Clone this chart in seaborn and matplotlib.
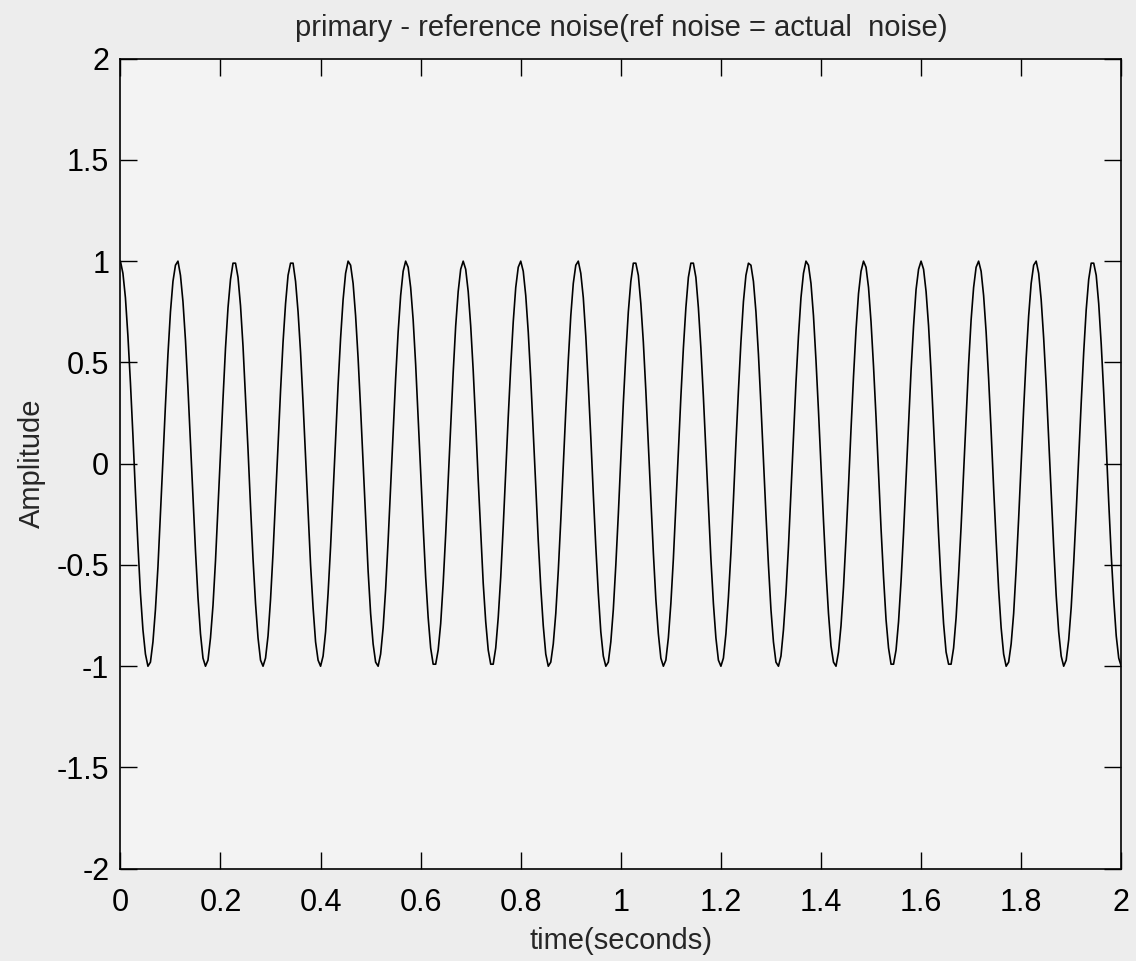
import numpy as np
import pandas as pd
import seaborn as sns
import matplotlib.pyplot as plt

# values, one every 0.005 s from 0 to 2 s
time_s = np.round(np.arange(401) * 0.005, 3)
amplitude = [
    1.00, 0.94, 0.82, 0.63, 0.40, 0.14, -0.14, -0.40, -0.64, -0.82,
    -0.94, -1.00, -0.98, -0.88, -0.72, -0.51, -0.25, 0.02, 0.29, 0.54,
    0.75, 0.90, 0.98, 1.00, 0.93, 0.80, 0.61, 0.37, 0.10, -0.17,
    -0.43, -0.66, -0.84, -0.96, -1.00, -0.97, -0.86, -0.70, -0.48, -0.22,
    0.05, 0.32, 0.57, 0.77, 0.91, 0.99, 0.99, 0.92, 0.78, 0.58,
    0.33, 0.07, -0.21, -0.47, -0.69, -0.86, -0.97, -1.00, -0.96, -0.85,
    -0.67, -0.44, -0.18, 0.09, 0.36, 0.60, 0.79, 0.93, 0.99, 0.99,
    0.90, 0.75, 0.55, 0.30, 0.03, -0.24, -0.50, -0.71, -0.88, -0.97,
    -1.00, -0.95, -0.83, -0.64, -0.41, -0.15, 0.12, 0.39, 0.62, 0.81,
    0.94, 1.00, 0.98, 0.89, 0.73, 0.52, 0.27, 0.00, -0.28, -0.53,
    -0.74, -0.89, -0.98, -1.00, -0.94, -0.81, -0.62, -0.38, -0.11, 0.16,
    0.42, 0.65, 0.83, 0.95, 1.00, 0.97, 0.87, 0.71, 0.49, 0.23,
    -0.04, -0.31, -0.56, -0.76, -0.91, -0.99, -0.99, -0.92, -0.79, -0.59,
    -0.35, -0.08, 0.19, 0.45, 0.68, 0.85, 0.96, 1.00, 0.96, 0.85,
    0.68, 0.46, 0.20, -0.08, -0.34, -0.59, -0.78, -0.92, -0.99, -0.99,
    -0.91, -0.76, -0.56, -0.31, -0.04, 0.23, 0.48, 0.70, 0.87, 0.97,
    1.00, 0.95, 0.83, 0.65, 0.42, 0.16, -0.11, -0.38, -0.61, -0.80,
    -0.94, -1.00, -0.98, -0.89, -0.74, -0.53, -0.28, -0.01, 0.26, 0.51,
    0.73, 0.89, 0.98, 1.00, 0.94, 0.82, 0.63, 0.39, 0.13, -0.15,
    -0.41, -0.64, -0.83, -0.95, -1.00, -0.98, -0.88, -0.72, -0.50, -0.25,
    0.03, 0.30, 0.54, 0.75, 0.90, 0.99, 0.99, 0.93, 0.79, 0.60,
    0.36, 0.09, -0.18, -0.44, -0.67, -0.84, -0.96, -1.00, -0.97, -0.86,
    -0.69, -0.47, -0.21, 0.06, 0.33, 0.57, 0.77, 0.92, 0.99, 0.99,
    0.92, 0.77, 0.57, 0.33, 0.06, -0.21, -0.47, -0.69, -0.86, -0.97,
    -1.00, -0.96, -0.84, -0.66, -0.44, -0.18, 0.10, 0.36, 0.60, 0.80,
    0.93, 0.99, 0.98, 0.90, 0.75, 0.54, 0.29, 0.02, -0.25, -0.50,
    -0.72, -0.88, -0.98, -1.00, -0.95, -0.82, -0.64, -0.41, -0.14, 0.13,
    0.40, 0.63, 0.82, 0.94, 1.00, 0.98, 0.89, 0.73, 0.51, 0.26,
    -0.01, -0.28, -0.53, -0.74, -0.90, -0.98, -1.00, -0.93, -0.80, -0.61,
    -0.37, -0.11, 0.17, 0.43, 0.66, 0.84, 0.95, 1.00, 0.97, 0.87,
    0.70, 0.48, 0.23, -0.05, -0.32, -0.56, -0.77, -0.91, -0.99, -0.99,
    -0.92, -0.78, -0.58, -0.34, -0.07, 0.20, 0.46, 0.68, 0.86, 0.96,
    1.00, 0.96, 0.85, 0.68, 0.45, 0.19, -0.08, -0.35, -0.59, -0.79,
    -0.93, -0.99, -0.99, -0.91, -0.76, -0.55, -0.31, -0.04, 0.24, 0.49,
    0.71, 0.87, 0.97, 1.00, 0.95, 0.83, 0.65, 0.42, 0.16, -0.12,
    -0.38, -0.62, -0.81, -0.94, -1.00, -0.98, -0.89, -0.74, -0.52, -0.27,
    0.00, 0.27, 0.52, 0.73, 0.89, 0.98, 1.00, 0.94, 0.81, 0.62,
    0.39, 0.12, -0.15, -0.41, -0.65, -0.83, -0.95, -1.00, -0.97, -0.87,
    -0.71, -0.49, -0.24, 0.03, 0.30, 0.55, 0.76, 0.91, 0.99, 0.99,
    0.93, 0.79, 0.59, 0.35, 0.09, -0.19, -0.45, -0.67, -0.85, -0.96,
    -1.00,
]
x_ticks = [0, 0.2, 0.4, 0.6, 0.8, 1, 1.2, 1.4, 1.6, 1.8, 2]
x_tick_labels = ['0', '0.2', '0.4', '0.6', '0.8', '1', '1.2', '1.4', '1.6', '1.8', '2']
y_ticks = [-2, -1.5, -1, -0.5, 0, 0.5, 1, 1.5, 2]
y_tick_labels = ['-2', '-1.5', '-1', '-0.5', '0', '0.5', '1', '1.5', '2']

df = pd.DataFrame({'time': time_s, 'amp': amplitude})

sns.set_style('ticks')
plt.rcParams['font.family'] = ['Liberation Sans', 'DejaVu Sans']

fig = plt.figure(figsize=(11.36, 9.61), dpi=100, facecolor='#ededed')
ax = fig.add_axes([0.106, 0.096, 0.881, 0.843])
ax.set_facecolor('#f3f3f3')

sns.lineplot(data=df, x='time', y='amp', color='black', linewidth=1.2, ax=ax)

ax.set_xlim(0, 2)
ax.set_ylim(-2, 2)
ax.set_xticks(x_ticks)
ax.set_xticklabels(x_tick_labels)
ax.set_yticks(y_ticks)
ax.set_yticklabels(y_tick_labels)
ax.tick_params(direction='in', length=12, width=1, top=True, right=True,
               labelsize=22, colors='black')
ax.tick_params(axis='x', pad=14)
ax.tick_params(axis='y', pad=8)
for s in ax.spines.values():
    s.set_visible(True)
    s.set_color('black')
    s.set_linewidth(1.2)

ax.set_title('primary - reference noise(ref noise = actual  noise)', fontsize=21, pad=16)
ax.set_xlabel('time(seconds)', fontsize=21, labelpad=6)
ax.set_ylabel('Amplitude', fontsize=21, labelpad=8)

fig.savefig('out.png', dpi=100, facecolor=fig.get_facecolor())
